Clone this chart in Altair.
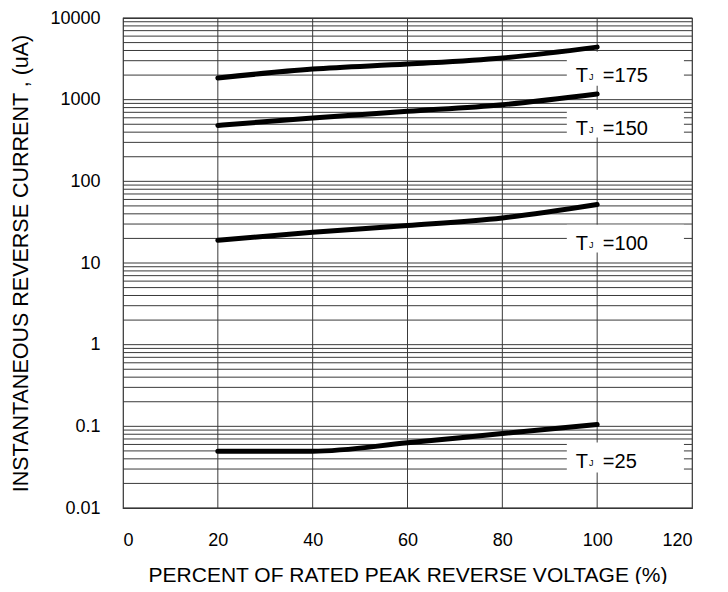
import altair as alt
import pandas as pd

# ---- data ----
pct = [20, 40, 60, 80, 100]
tj175 = [1840, 2370, 2730, 3240, 4400]
tj150 = [484, 597, 719, 868, 1175]
tj100 = [19.0, 23.8, 28.7, 35.6, 51.9]
tj25 = [0.0495, 0.0495, 0.0628, 0.0817, 0.105]
series_names = ["175", "150", "100", "25"]

x_ticks = [0, 20, 40, 60, 80, 100, 120]
y_ticks = [0.01, 0.1, 1, 10, 100, 1000, 10000]
decades = [0.01, 0.1, 1, 10, 100, 1000]
mults = [1, 2, 3, 4, 5, 6, 7, 8, 9]
x_grid = [20, 40, 60, 80, 100]

# annotation labels (data coordinates)
label_text = ["=175", "=150", "=100", "=25"]
label_y = [1660, 373, 14.6, 0.0313]
box_top = [3870, 755, 29.5, 0.0634]
box_bot = [1483, 343, 13.4, 0.0272]
box_x0, box_x1 = 93.6, 118.3
x_T, x_J, x_eq = 95.5, 98.3, 101.2

# ---- tables ----
rows = []
for name, vals in zip(series_names, [tj175, tj150, tj100, tj25]):
    for p, v in zip(pct, vals):
        rows.append({"pct": p, "cur": v, "tj": name})
df = pd.DataFrame(rows)

hgrid = pd.DataFrame({"y": [d * m for d in decades for m in mults] + [10000]})
vgrid = pd.DataFrame({"x": x_grid})
boxes = pd.DataFrame({"x0": [box_x0] * 4, "x1": [box_x1] * 4, "y0": box_bot, "y1": box_top})
labels = pd.DataFrame({"t": label_text, "y": label_y, "xT": [x_T] * 4, "xJ": [x_J] * 4, "xe": [x_eq] * 4})

FONT = "Liberation Sans"
xscale = alt.Scale(domain=[0, 120], nice=False, zero=False)
yscale = alt.Scale(type="log", domain=[0.01, 10000], nice=False)

xaxis = alt.Axis(values=x_ticks, grid=False, ticks=False, domain=False,
                 labelFont=FONT, labelFontSize=18, labelPadding=23, labelColor="black",
                 title="PERCENT OF RATED PEAK REVERSE VOLTAGE (%)",
                 titleFont=FONT, titleFontSize=21, titleFontWeight="normal",
                 titlePadding=15, titleColor="black")
yaxis = alt.Axis(values=y_ticks, grid=False, ticks=False, domain=False, format="~g",
                 labelFont=FONT, labelFontSize=18, labelPadding=23, labelColor="black",
                 title="INSTANTANEOUS REVERSE CURRENT , (uA)",
                 titleFont=FONT, titleFontSize=21.5, titleFontWeight="normal",
                 titlePadding=17, titleColor="black")

base_axes = alt.Chart(df).mark_line(opacity=0).encode(
    x=alt.X("pct:Q", scale=xscale, axis=xaxis),
    y=alt.Y("cur:Q", scale=yscale, axis=yaxis),
    detail="tj:N",
)

hrules = alt.Chart(hgrid).mark_rule(color="#3a3a3a", strokeWidth=1).encode(
    y=alt.Y("y:Q", scale=yscale)
)
vrules = alt.Chart(vgrid).mark_rule(color="#3a3a3a", strokeWidth=1).encode(
    x=alt.X("x:Q", scale=xscale)
)
rects = alt.Chart(boxes).mark_rect(color="white").encode(
    x=alt.X("x0:Q", scale=xscale), x2="x1:Q",
    y=alt.Y("y0:Q", scale=yscale), y2="y1:Q",
)
lines = alt.Chart(df).mark_line(color="black", strokeWidth=5, interpolate="monotone",
                                strokeCap="round").encode(
    x=alt.X("pct:Q", scale=xscale),
    y=alt.Y("cur:Q", scale=yscale),
    detail="tj:N",
)
tT = alt.Chart(labels).mark_text(text="T", font=FONT, fontSize=20, align="left",
                                 baseline="alphabetic", color="black").encode(
    x=alt.X("xT:Q", scale=xscale), y=alt.Y("y:Q", scale=yscale))
tJ = alt.Chart(labels).mark_text(text="J", font=FONT, fontSize=9, align="left",
                                 baseline="alphabetic", color="black", dy=-2).encode(
    x=alt.X("xJ:Q", scale=xscale), y=alt.Y("y:Q", scale=yscale))
tE = alt.Chart(labels).mark_text(font=FONT, fontSize=20, align="left",
                                 baseline="alphabetic", color="black").encode(
    x=alt.X("xe:Q", scale=xscale), y=alt.Y("y:Q", scale=yscale), text="t:N")

chart = alt.layer(base_axes, hrules, vrules, rects, lines, tT, tJ, tE).properties(
    width=569, height=490,
    autosize=alt.AutoSizeParams(type="none"),
    padding={"left": 115, "top": 10, "right": 28, "bottom": 76},
    background="white",
).configure_view(stroke="#333", strokeWidth=1.2)

chart.save("out.html", embed_options={"renderer": "svg", "actions": False})
